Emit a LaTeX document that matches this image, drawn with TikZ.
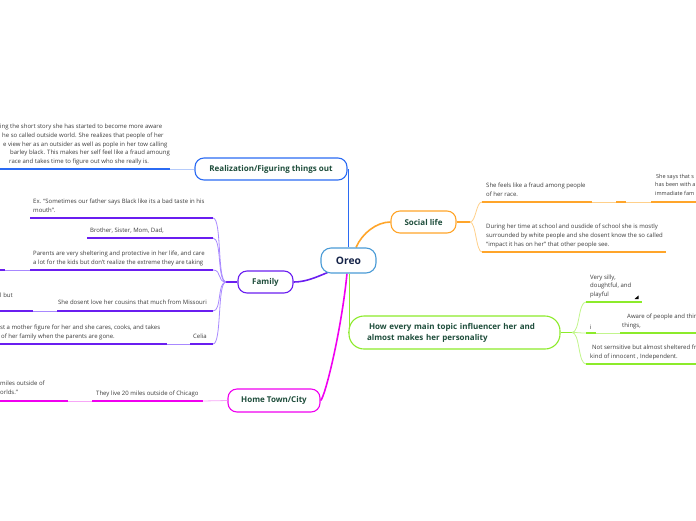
\documentclass[tikz,border=0pt]{standalone}
\usepackage{fontspec}
\setmainfont{Open Sans}
\newfontfamily\headfont{Open Sans}
\usetikzlibrary{calc}
\definecolor{realblue}{HTML}{2B6BF3}
\definecolor{oreoblue}{HTML}{4A9BD6}
\definecolor{purp}{HTML}{6A1EF0}
\definecolor{purpL}{HTML}{A888FF}
\definecolor{magen}{HTML}{F000F0}
\definecolor{magenL}{HTML}{F7A6F7}
\definecolor{orng}{HTML}{FFA52A}
\definecolor{orngL}{HTML}{FFD08A}
\definecolor{grn}{HTML}{8CEB2A}
\definecolor{grnL}{HTML}{C2F58C}
\definecolor{headgreen}{HTML}{1E4D3B}
\definecolor{navy}{HTML}{152348}
\definecolor{notegray}{HTML}{3A3A3A}
\pgfdeclarelayer{bg}
\pgfsetlayers{bg,main}
\begin{document}
\begin{tikzpicture}[x=1pt,y=-1pt,
  topic/.style={draw, line width=1.1pt, fill=white, rounded corners=9pt, inner sep=0pt,
    font=\headfont\bfseries\fontsize{8}{11.2}\selectfont, text=headgreen},
  note/.style={inner sep=0pt, anchor=base west, align=left,
    font=\fontsize{6}{8.8}\selectfont, text=notegray},
  uline/.style={line width=1.3pt},
  link/.style={line width=0.8pt},
  trunk/.style={line width=1.6pt}]
\useasboundingbox (0,0) rectangle (696,520);
\clip (0,0) rectangle (696,520);

% ---------- topics ----------
\node[topic, draw=oreoblue, minimum width=55pt, minimum height=25pt, rounded corners=10pt,
  text=navy, font=\headfont\bfseries\fontsize{10.3}{12}\selectfont] (oreo) at (348.5,260.5) {Oreo};
\node[topic, draw=realblue, minimum width=152pt, minimum height=22pt] (real) at (271,169) {Realization/Figuring things out};
\node[topic, draw=purp, minimum width=55pt, minimum height=22pt] (family) at (265.5,282) {Family};
\node[topic, draw=magen, minimum width=92pt, minimum height=23pt] (home) at (274,400.5) {Home Town/City};
\node[topic, draw=orng, minimum width=65pt, minimum height=22pt] (social) at (423.5,222) {Social life};
\node[topic, draw=grn, rounded corners=15pt, minimum height=33pt, inner xsep=18pt, text width=175pt, align=left] (how) at (454.5,332.5)
  {\hspace{2pt}How every main topic influencer her and\\almost makes her personality};

% ---------- main connectors ----------
\begin{pgfonlayer}{bg}
\draw[trunk, realblue] (oreo.north) -- (oreo.north |- real.east);
\draw[trunk, orng] ($(oreo.north)+(7.5,0)$) .. controls +(6,-14) and +(-14,0) .. (social.west);
\draw[trunk, purp] ($(oreo.south west)+(7,-1)$) .. controls +(-12,5) and +(12,0) .. (family.east);
\draw[trunk, magen] ($(oreo.south)+(-1.5,0)$) .. controls +(-6,60) and +(4,-2) .. (home.east);
\draw[trunk, grn] ($(oreo.south)+(1,0)$) |- (how.west);
\end{pgfonlayer}

% ---------- Realization ----------
\coordinate (r1a) at (0,169); \coordinate (r1b) at (170,169);
\draw[uline, realblue] (r1a) -- (r1b);
\draw[link, realblue!35] (r1b) -- (real.west);
\node[note] (rn1) at (0,163.7) {ing the short story she has started to become more aware\\
\hspace{2pt}he so called outside world. She realizes that people of her\\
\hspace{3pt}e view her as an outsider as well as pople in her tow calling\\
\hspace{10pt}barley black. This makes her self feel like a fraud amoung\\
\hspace{9pt}race and takes time to figure out who she really is.};

% ---------- Family ----------
\coordinate (fhub) at (226,282);
\draw[trunk, purp] (family.west) -- (fhub);
\coordinate (f1a) at (30,218);  \coordinate (f1b) at (213,218);
\coordinate (f2a) at (87,238);  \coordinate (f2b) at (213,238);
\coordinate (f3a) at (30,270);  \coordinate (f3b) at (213,270);
\coordinate (f4a) at (57,311);  \coordinate (f4b) at (213,311);
\coordinate (f5a) at (190,344); \coordinate (f5b) at (213,344);
\foreach \e in {f1b,f2b,f3b,f4b,f5b}
  \draw[link, purpL] (fhub) .. controls +(-9,0) and +(9,0) .. (\e);
\foreach \a/\b in {f1a/f1b,f2a/f2b,f3a/f3b,f4a/f4b,f5a/f5b}
  \draw[uline, purp] (\a) -- (\b);
\node[note] (fn1) at (33,212.7) {Ex. ``Sometimes our father says Black like its a bad taste in his\\mouth''.};
\node[note] (fn2) at (90,232.7) {Brother, Sister, Mom, Dad,};
\node[note] (fn3) at (33,264.7) {Parents are very sheltering and protective in her life, and care\\a lot for the kids but don't realize the extreme they are taking};
\node[note, anchor=base east] (fn4) at (207,304.7) {She dosent love her cousins that much from Missouri};
\node[note] (fn5) at (193,338.7) {Celia};
% grandchildren
\coordinate (g3a) at (-2,270); \coordinate (g3b) at (5,270);
\draw[uline, purp] (g3a) -- (g3b);
\draw[link, purpL] (g3b) -- (f3a);
\coordinate (g4a) at (-2,311); \coordinate (g4b) at (33,311);
\draw[uline, purp] (g4a) -- (g4b);
\draw[link, purpL] (g4b) -- (f4a);
\node[note] (gn4) at (0,297.5) {l but};
\coordinate (g5a) at (-2,344); \coordinate (g5b) at (167,344);
\draw[uline, purp] (g5a) -- (g5b);
\draw[link, purpL] (g5b) -- (f5a);
\node[note] (gn5) at (0,338.7) {st a mother figure for her and she cares, cooks, and takes\\\hspace{1pt}of her family when the parents are gone.};

% ---------- Home Town ----------
\coordinate (h1a) at (92,401); \coordinate (h1b) at (203,401);
\draw[uline, magen] (h1a) -- (h1b);
\draw[link, magenL] (h1b) -- (home.west);
\node[note] (hn1) at (96,395.2) {They live 20 miles outside of Chicago};
\coordinate (h2a) at (-2,401); \coordinate (h2b) at (68,401);
\draw[uline, magen] (h2a) -- (h2b);
\draw[link, magenL] (h2b) -- (h1a);
\node[note] (hn2) at (0,394.5) {miles outside of\\orlds.''};

% ---------- Social life ----------
\coordinate (shub) at (470,222);
\draw[trunk, orng] (social.east) -- (shub);
\coordinate (s1a) at (482,202); \coordinate (s1b) at (592,202);
\coordinate (s2a) at (482,252); \coordinate (s2b) at (666,252);
\draw[link, orngL] (shub) .. controls +(6,0) and +(-6,0) .. (s1a);
\draw[link, orngL] (shub) .. controls +(6,0) and +(-6,0) .. (s2a);
\draw[uline, orng] (s1a) -- (s1b);
\draw[uline, orng] (s2a) -- (s2b);
\node[note] (sn1) at (486,196.2) {She feels like a fraud among people\\of her race.};
\node[note] (sn2) at (486,246.5) {During her time at school and ousdide of school she is mostly\\surrounded by white people and she dosent know the so called\\``impact it has on her'' that other people see.};
\coordinate (s3a) at (616,202); \coordinate (s3b) at (626,202);
\draw[link, orngL] (s1b) -- (s3a);
\draw[uline, orng] (s3a) -- (s3b);
\coordinate (s4a) at (651,202); \coordinate (s4b) at (698,202);
\draw[link, orngL] (s3b) -- (s4a);
\draw[uline, orng] (s4a) -- (s4b);
\node[note, font=\fontsize{5.5}{8.2}\selectfont] (sn4) at (655,195) {\hspace{1pt}She says that s\\has been with a\\immadiate fam};

% ---------- How every main topic ----------
\coordinate (ghub) at (572,332.5);
\draw[trunk, grn] (how.east) -- (ghub);
\coordinate (v1a) at (586,302); \coordinate (v1b) at (642,302);
\coordinate (v2a) at (586,333); \coordinate (v2b) at (596,333);
\coordinate (v3a) at (586,364); \coordinate (v3b) at (698,364);
\foreach \e in {v1a,v2a,v3a}
  \draw[link, grnL] (ghub) .. controls +(8,0) and +(-8,0) .. (\e);
\foreach \a/\b in {v1a/v1b,v2a/v2b,v3a/v3b}
  \draw[uline, grn] (\a) -- (\b);
\node[note] (vn1) at (590,296.7) {Very silly,\\doughtful, and\\playful};
\fill[black] (634.5,299) -- (638.5,299) -- (638.5,295.5) -- cycle;
\node[note] (vn2) at (589.5,329) {i};
\coordinate (v4a) at (620,333); \coordinate (v4b) at (698,333);
\draw[link, grnL] (v2b) -- (v4a);
\draw[uline, grn] (v4a) -- (v4b);
\node[note] (vn4) at (622,327.7) {\hspace{5pt}Aware of people and thin\\things,};
\node[note] (vn3) at (590,358.7) {\hspace{2pt}Not sernsitive but almost sheltered fr\\kind of innocent , Independent.};
\end{tikzpicture}
\end{document}
